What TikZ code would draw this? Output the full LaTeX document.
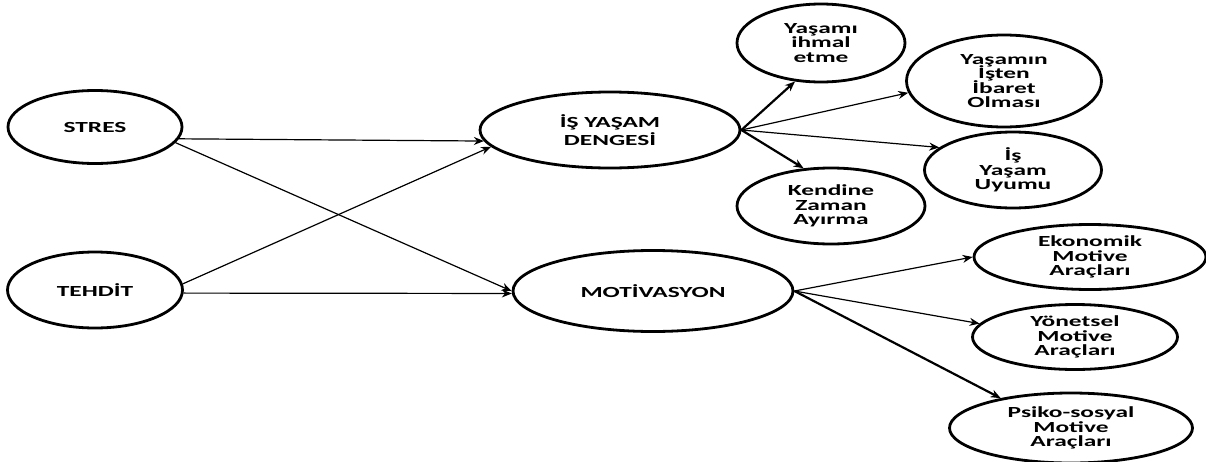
\documentclass[tikz,border=0pt]{standalone}
\usepackage{fontspec}
\newfontfamily\kutufont{Carlito}[FakeStretch=1.65]
\newcommand\kutusatir{\lineskiplimit=-10pt\relax}
\usetikzlibrary{arrows.meta,shapes.geometric}
\tikzset{
>=Stealth,
kutu/.style={ellipse,draw,line width=1.4pt,inner sep=0pt,align=center,
  font=\kutufont\bfseries\fontsize{7.7}{7.2}\selectfont\kutusatir},
ok/.style={-{Stealth[length=5pt,width=4pt]},line width=0.6pt},
kalin ok/.style={ok,line width=1.1pt}}

\begin{document}
\begin{tikzpicture}[x=0.5pt,y=-0.5pt]
      \useasboundingbox (0,0) rectangle (1206,461);

      \node[kutu,minimum width=87pt,minimum height=36.5pt] (stres) at (95,127) {STRES};
      \node[kutu,minimum width=87.5pt,minimum height=38pt] (tehdit) at (95,290) {TEHDİT};
      \node[kutu,minimum width=130pt,minimum height=38pt] (denge) at (610,130) {İŞ YAŞAM\\[2pt]DENGESİ};
      \node[kutu,minimum width=140pt,minimum height=40.5pt] (motiv) at (653,291) {MOTİVASYON};

      \node[kutu,minimum width=84pt,minimum height=39pt] (ihmal) at (821,43) {Yaşamı\\ihmal\\etme};
      \node[kutu,minimum width=94pt,minimum height=38pt] (kendine) at (831,206) {Kendine\\Zaman\\Ayırma};
      \node[kutu,minimum width=97.5pt,minimum height=46pt] (ibaret) at (1004,81) {Yaşamın\\İşten\\İbaret\\Olması};
      \node[kutu,minimum width=88.5pt,minimum height=38pt] (uyum) at (1013,170) {İş\\Yaşam\\Uyumu};

      \node[kutu,minimum width=116pt,minimum height=32.5pt] (ekonomik) at (1090,257) {Ekonomik\\Motive\\Araçları};
      \node[kutu,minimum width=102.5pt,minimum height=32.5pt] (yonetsel) at (1075,337) {Yönetsel\\Motive\\Araçları};
      \node[kutu,minimum width=121.5pt,minimum height=35pt] (psiko) at (1071,428) {Psiko-sosyal\\Motive\\Araçları};

      \path[ok] (stres.-8) edge (denge.185) (stres.-11) edge (motiv.180)
        (tehdit.4) edge (denge.188) (tehdit.-2) edge (motiv.181);
      \path[kalin ok] (denge.east) edge (ihmal.236) (denge.east) edge (kendine.126);
      \path[ok] (denge.east) edge (ibaret.187) (denge.east) edge (uyum.163);
      \path[ok] (motiv.east) edge (ekonomik.180) (motiv.east) edge (yonetsel.172);
      \path[kalin ok] (motiv.east) edge (psiko.157);
\end{tikzpicture}
\end{document}
